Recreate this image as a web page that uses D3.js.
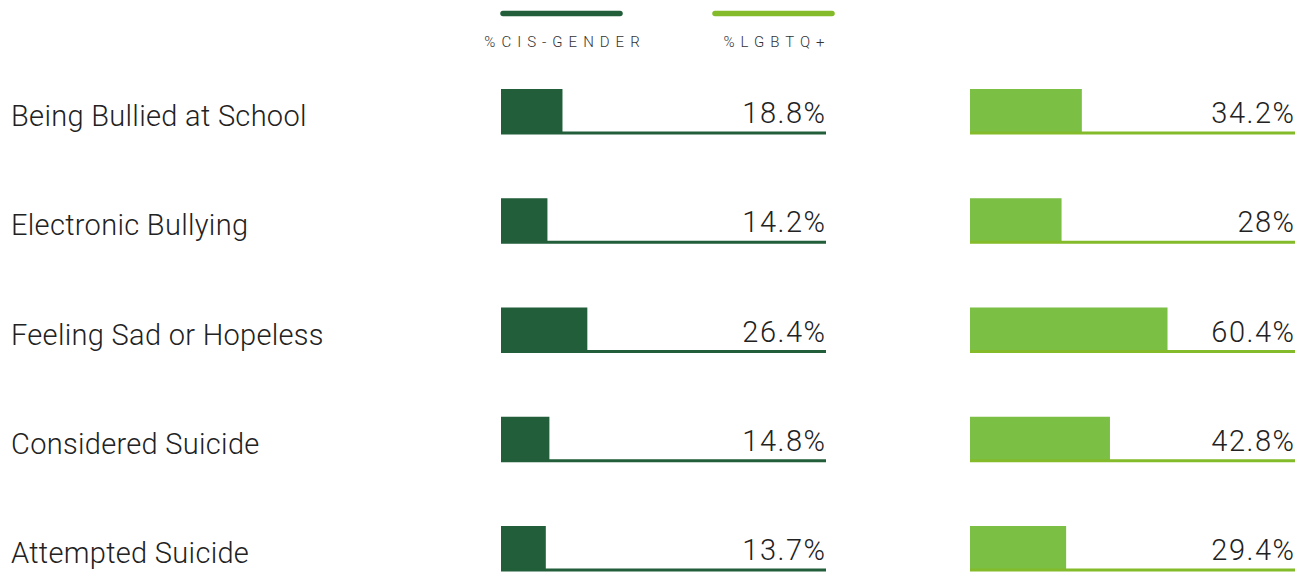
<!DOCTYPE html>
<html>
<head>
<meta charset="utf-8">
<script src="https://cdn.jsdelivr.net/npm/d3@7"></script>
<style>
  body { margin: 0; background: #fff; }
  svg { display: block; font-family: Roboto, sans-serif; }
</style>
</head>
<body>
<svg width="1305" height="573"></svg>
<script>
// данные
const categories = ["Being Bullied at School", "Electronic Bullying", "Feeling Sad or Hopeless", "Considered Suicide", "Attempted Suicide"];
const cisValues = [18.8, 14.2, 26.4, 14.8, 13.7];
const lgbtqValues = [34.2, 28, 60.4, 42.8, 29.4];
const seriesNames = ["%CIS-GENDER", "%LGBTQ+"];

const colors = { cis: "#215e39", lgbtq: "#7bbf44", lgbtqLine: "#84bb2a" };

const svg = d3.select("svg");

const attr_area = {
    labelX: 11,
    panelWidth: 325,
    panels: [501, 970],
    barHeight: 44
};

// строки
const scY = d3.scalePoint()
    .domain(categories)
    .range([89, 526]);

const scX = d3.scaleLinear()
    .domain([0, 100])
    .range([0, 327]);

// легенда
const legend = svg.append("g");
seriesNames.forEach((name, i) => {
    const x0 = i === 0 ? 501 : 713;
    const color = i === 0 ? colors.cis : colors.lgbtqLine;
    legend.append("line")
        .attr("x1", x0 + 2)
        .attr("x2", x0 + 119)
        .attr("y1", 13.5)
        .attr("y2", 13.5)
        .attr("stroke", color)
        .attr("stroke-width", 5.5)
        .attr("stroke-linecap", "round");
    legend.append("text")
        .attr("x", x0 + 61 + 3)
        .attr("y", 47)
        .attr("text-anchor", "middle")
        .style("font-size", "15px")
        .style("font-weight", 300)
        .style("letter-spacing", "6px")
        .style("fill", "#333")
        .text(name);
});

// подписи категорий
svg.selectAll(".cat-label")
    .data(categories)
    .enter()
    .append("text")
    .attr("class", "cat-label")
    .attr("x", attr_area.labelX)
    .attr("y", d => scY(d) + 37)
    .style("font-size", "29px")
    .style("font-weight", 300)
    .style("letter-spacing", "0.3px")
    .style("fill", "#222")
    .text(d => d);

function drawPanel(values, x0, barColor, lineColor, cls) {
    const g = svg.append("g").attr("transform", `translate(${x0}, 0)`);
    const rows = categories.map((c, i) => ({ label: c, value: values[i] }));

    g.selectAll(".bar-" + cls)
        .data(rows)
        .enter()
        .append("rect")
        .attr("class", "bar-" + cls)
        .attr("x", 0)
        .attr("y", d => scY(d.label))
        .attr("width", d => scX(d.value))
        .attr("height", attr_area.barHeight)
        .style("fill", barColor);

    g.selectAll(".base-" + cls)
        .data(rows)
        .enter()
        .append("rect")
        .attr("class", "base-" + cls)
        .attr("x", 0)
        .attr("y", d => scY(d.label) + attr_area.barHeight - 1.5)
        .attr("width", attr_area.panelWidth)
        .attr("height", 3)
        .style("fill", lineColor);

    g.selectAll(".val-" + cls)
        .data(rows)
        .enter()
        .append("text")
        .attr("class", "val-" + cls)
        .attr("x", attr_area.panelWidth + 0.5)
        .attr("y", d => scY(d.label) + 34)
        .attr("text-anchor", "end")
        .style("font-size", "29px")
        .style("font-weight", 300)
        .style("letter-spacing", "1.5px")
        .style("fill", "#222")
        .text(d => d.value + "%");
}

drawPanel(cisValues, attr_area.panels[0], colors.cis, colors.cis, "cis");
drawPanel(lgbtqValues, attr_area.panels[1], colors.lgbtq, colors.lgbtqLine, "lgbtq");
</script>
</body>
</html>
